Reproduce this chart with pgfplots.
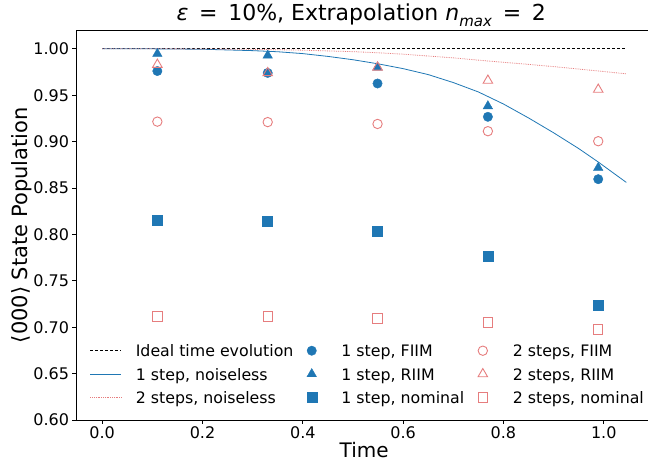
\documentclass[border=0pt]{standalone}
\usepackage{pgfplots}
\pgfplotsset{compat=1.18}
\usepackage{fontspec}
\setmainfont{DejaVu Sans}
\definecolor{tblue}{HTML}{1F77B4}
\definecolor{tred}{RGB}{230,125,126}
\pgfplotsset{
  lline/.style={legend image code/.code={\draw[##1] (0pt,0pt) -- (31pt,0pt);}},
  lmark/.style={legend image code/.code={\path (0pt,0pt) (31pt,0pt); \draw[##1] plot coordinates {(15.5pt,0pt)};}},
}
\begin{document}
\begin{tikzpicture}
\begin{axis}[
  scale only axis, width=576.3pt, height=389.5pt,
  xmin=-0.0522, xmax=1.0968, ymin=0.6, ymax=1.0197,
  xtick={0,0.2,0.4,0.6,0.8,1.0},
  ytick={0.60,0.65,0.70,0.75,0.80,0.85,0.90,0.95,1.00},
  tick pos=left, tick align=outside, major tick length=3.5pt,
  axis line style={line width=0.9pt},
  tick style={line width=0.9pt, black},
  /pgf/number format/assume math mode=true,
  tick label style={font=\fontsize{16}{19}\selectfont},
  xticklabel style={/pgf/number format/.cd, fixed, fixed zerofill, precision=1},
  yticklabel style={/pgf/number format/.cd, fixed, fixed zerofill, precision=2},
  xlabel={Time}, ylabel={⟨000⟩ State Population},
  xlabel style={at={([yshift=-37.5pt]rel axis cs:0.5,0)}, anchor=base, yshift=0pt, font=\fontsize{20}{24}\selectfont},
  ylabel style={at={([xshift=-48.7pt]rel axis cs:0,0.5)}, anchor=base, rotate=0, xshift=0pt, yshift=0pt, font=\fontsize{21}{25}\selectfont},
  title={\textit{ε}\, = \,10\%, Extrapolation \textit{n}\raisebox{-0.25em}{\fontsize{15}{17}\selectfont\textit{max}}\, = \,2},
  title style={at={([yshift=3.5pt]rel axis cs:0.495,1)}, anchor=base, yshift=0pt, font=\fontsize{22}{26}\selectfont},
  legend columns=3,
  legend cell align=left,
  legend style={draw=none, fill=none, inner sep=0pt, outer sep=0pt,
    at={(rel axis cs:0.0243,0.1933)}, anchor=north west,
    row sep=11.3pt,
    font=\fontsize{15.8}{18}\selectfont,
    nodes={inner sep=0pt, text height=12pt, text depth=0pt},
    /tikz/every odd column/.append style={column sep=14pt},
    /tikz/every even column/.append style={column sep=2.6pt}},
]
\coordinate (LL) at (rel axis cs:0,0);
% ideal
\addplot[black, densely dashed, line width=0.7pt, forget plot] coordinates {(0,1.0) (1.045,1.0)};
% 1 step noiseless
\addplot[tblue, line width=0.8pt, forget plot] coordinates {
(0,1.0) (0.1,0.99995) (0.2,0.9995) (0.3,0.998) (0.35,0.9968) (0.4,0.9948) (0.45,0.9918) (0.5,0.9882) (0.55,0.9838) (0.6,0.9786) (0.65,0.9722) (0.7,0.9636) (0.75,0.9535) (0.8,0.9405) (0.85,0.9255) (0.9,0.9095) (0.95,0.8925) (0.989,0.878) (1.045,0.856)};
% 2 steps noiseless
\addplot[tred, densely dotted, line width=0.8pt, forget plot] coordinates {
(0,1.0) (0.1,1.0) (0.2,0.9998) (0.3,0.9994) (0.4,0.9985) (0.5,0.9969) (0.55,0.9957) (0.6,0.9942) (0.7,0.9902) (0.77,0.9868) (0.85,0.9832) (0.9,0.9808) (0.989,0.9761) (1.045,0.973)};
% 1 step markers
\addplot[only marks, mark=*, mark size=4.7pt, tblue, forget plot] coordinates {
(0.110,0.976) (0.330,0.974) (0.549,0.9626) (0.769,0.9267) (0.989,0.8595)};
\addplot[only marks, mark=triangle*, mark size=5.5pt, tblue, forget plot] coordinates {
(0.110,0.9946) (0.330,0.9928) (0.549,0.980) (0.769,0.9382) (0.989,0.8718)};
\addplot[only marks, mark=square*, mark size=5pt, tblue, forget plot] coordinates {
(0.110,0.815) (0.330,0.814) (0.549,0.803) (0.769,0.776) (0.989,0.724)};
% 2 steps markers
\addplot[only marks, mark=o, mark size=4.7pt, tred, line width=0.9pt, forget plot] coordinates {
(0.110,0.9215) (0.330,0.921) (0.549,0.919) (0.769,0.9112) (0.989,0.9004)};
\addplot[only marks, mark=triangle, mark size=5.5pt, tred, line width=0.9pt, forget plot] coordinates {
(0.110,0.983) (0.330,0.974) (0.549,0.980) (0.769,0.9658) (0.989,0.9561)};
\addplot[only marks, mark=square, mark size=4.7pt, tred, line width=0.9pt, forget plot] coordinates {
(0.110,0.7115) (0.330,0.7115) (0.549,0.7094) (0.769,0.705) (0.989,0.6975)};
% legend (row-wise)
\addlegendimage{black, densely dashed, line width=0.7pt, lline}
\addlegendentry{Ideal time evolution}
\addlegendimage{only marks, mark=*, mark size=4.7pt, tblue, lmark}
\addlegendentry{1 step, FIIM}
\addlegendimage{only marks, mark=o, mark size=4.7pt, tred, line width=0.9pt, lmark}
\addlegendentry{2 steps, FIIM}
\addlegendimage{tblue, line width=0.8pt, lline}
\addlegendentry{1 step, noiseless}
\addlegendimage{only marks, mark=triangle*, mark size=5.5pt, tblue, lmark}
\addlegendentry{1 step, RIIM}
\addlegendimage{only marks, mark=triangle, mark size=5.5pt, tred, line width=0.9pt, lmark}
\addlegendentry{2 steps, RIIM}
\addlegendimage{tred, densely dotted, line width=0.8pt, lline}
\addlegendentry{2 steps, noiseless}
\addlegendimage{only marks, mark=square*, mark size=5pt, tblue, lmark}
\addlegendentry{1 step, nominal}
\addlegendimage{only marks, mark=square, mark size=4.7pt, tred, line width=0.9pt, lmark}
\addlegendentry{2 steps, nominal}
\end{axis}
\pgfresetboundingbox
\path ([xshift=-76pt,yshift=-41pt]LL) rectangle ([xshift=572pt,yshift=420pt]LL);
\end{tikzpicture}
\end{document}
